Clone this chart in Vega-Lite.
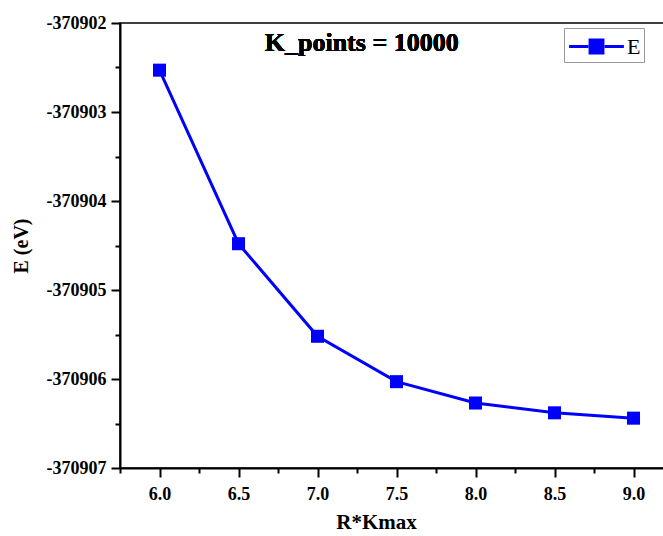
{
  "$schema": "https://vega.github.io/schema/vega-lite/v6.json",
  "width": 553,
  "height": 445,
  "autosize": {"type": "none"},
  "padding": {"left": 120, "top": 23, "right": 0, "bottom": 68},
  "background": "white",
  "config": {
    "view": {"stroke": "black", "strokeWidth": 1.5},
    "font": "Liberation Serif",
    "axis": {
      "labelFont": "Liberation Serif",
      "titleFont": "Liberation Serif",
      "labelFontWeight": "bold",
      "titleFontWeight": "bold",
      "labelColor": "black",
      "titleColor": "black",
      "domainColor": "black",
      "tickColor": "black",
      "domainWidth": 2,
      "tickWidth": 2,
      "grid": false
    }
  },
  "data": {
    "values": [
      {"x": 6.0, "E": -370902.53, "series": "E"},
      {"x": 6.5, "E": -370904.48, "series": "E"},
      {"x": 7.0, "E": -370905.52, "series": "E"},
      {"x": 7.5, "E": -370906.03, "series": "E"},
      {"x": 8.0, "E": -370906.27, "series": "E"},
      {"x": 8.5, "E": -370906.38, "series": "E"},
      {"x": 9.0, "E": -370906.44, "series": "E"}
    ]
  },
  "layer": [
    {
      "mark": {"type": "line", "strokeWidth": 3},
      "encoding": {
        "x": {
          "field": "x", "type": "quantitative",
          "scale": {"domain": [5.75, 9.25], "nice": false, "zero": false},
          "axis": {
            "orient": "bottom",
            "values": [6.0, 6.5, 7.0, 7.5, 8.0, 8.5, 9.0],
            "format": ".1f",
            "tickSize": 9,
            "labelFontSize": 18,
            "labelPadding": 8,
            "title": "R*Kmax",
            "titleFontSize": 21,
            "titlePadding": 8,
            "titleX": 256
          }
        },
        "y": {
          "field": "E", "type": "quantitative",
          "scale": {"domain": [-370907, -370902], "nice": false, "zero": false},
          "axis": {
            "orient": "left",
            "values": [-370907, -370906, -370905, -370904, -370903, -370902],
            "labelExpr": "'-' + format(abs(datum.value), 'd')",
            "tickSize": 9,
            "labelFontSize": 18,
            "labelPadding": 5,
            "title": "E (eV)",
            "titleFontSize": 20,
            "titlePadding": 15
          }
        },
        "color": {
          "field": "series", "type": "nominal",
          "scale": {"range": ["#0000ff"]},
          "legend": {
            "title": null,
            "orient": "none",
            "legendX": 444,
            "legendY": 5,
            "symbolType": "M-2,0L-0.6,0M0.6,0L2,0M-0.47,-0.47L0.47,-0.47L0.47,0.47L-0.47,0.47Z",
            "symbolSize": 750,
            "symbolOffset": 14,
            "symbolStrokeWidth": 3,
            "symbolFillColor": "#0000ff",
            "symbolStrokeColor": "#0000ff",
            "labelFont": "Liberation Serif",
            "labelFontSize": 22,
            "labelColor": "black",
            "labelOffset": 15,
            "strokeColor": "#999999",
            "padding": 3,
            "fillColor": "white"
          }
        }
      }
    },
    {
      "mark": {"type": "point", "shape": "square", "filled": true, "size": 170, "opacity": 1},
      "encoding": {
        "x": {"field": "x", "type": "quantitative", "axis": null},
        "y": {"field": "E", "type": "quantitative", "axis": null},
        "color": {"field": "series", "type": "nominal"}
      }
    },
    {
      "mark": {"type": "text", "fontSize": 26, "fontWeight": "bold", "font": "Liberation Serif", "color": "black", "baseline": "middle", "align": "center"},
      "encoding": {
        "x": {"datum": 7.28, "axis": null},
        "y": {"datum": -370902.22, "axis": null},
        "text": {"value": "K_points = 10000"}
      }
    },
    {
      "mark": {"type": "point", "opacity": 0},
      "encoding": {
        "x": {
          "field": "x", "type": "quantitative",
          "axis": {
            "orient": "bottom",
            "values": [5.75, 6.25, 6.75, 7.25, 7.75, 8.25, 8.75, 9.25],
            "labels": false, "domain": false, "tickSize": 5, "title": null
          }
        },
        "y": {
          "field": "E", "type": "quantitative",
          "axis": {
            "orient": "left",
            "values": [-370906.5, -370905.5, -370904.5, -370903.5, -370902.5],
            "labels": false, "domain": false, "tickSize": 5, "title": null
          }
        }
      }
    }
  ],
  "resolve": {"axis": {"x": "independent", "y": "independent"}}
}
